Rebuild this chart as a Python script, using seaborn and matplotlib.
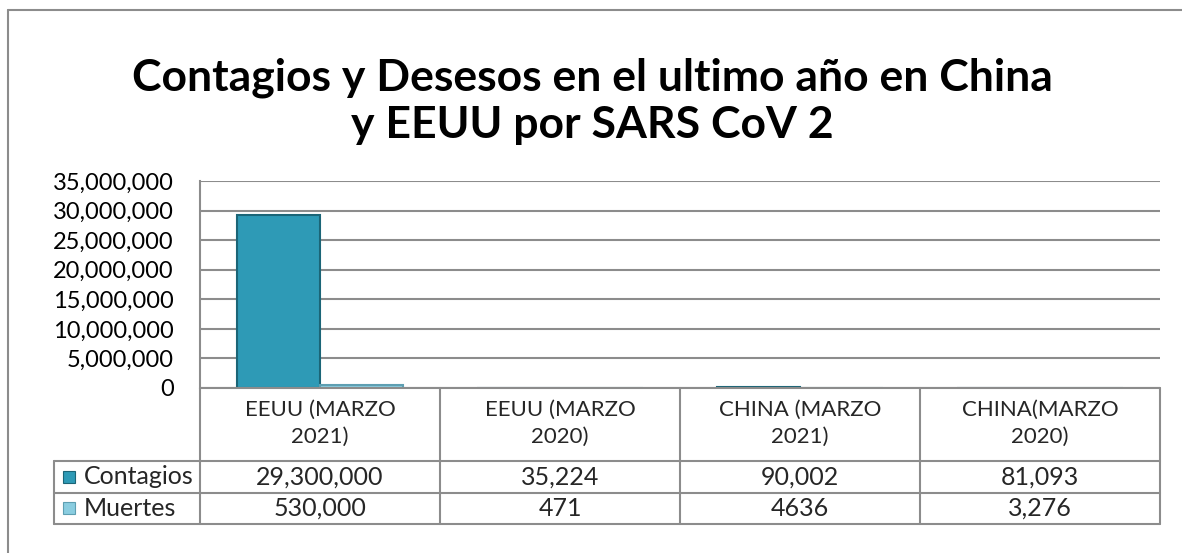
import pandas as pd
import seaborn as sns
import matplotlib.pyplot as plt
from matplotlib.ticker import FuncFormatter
from matplotlib.patches import Rectangle
from matplotlib.lines import Line2D

# Datos
periodos = ['EEUU (MARZO\n2021)', 'EEUU (MARZO\n2020)', 'CHINA (MARZO\n2021)', 'CHINA(MARZO\n2020)']
contagios = [29300000, 35224, 90002, 81093]
muertes = [530000, 471, 4636, 3276]
contagios_txt = ['29,300,000', '35,224', '90,002', '81,093']
muertes_txt = ['530,000', '471', '4636', '3,276']
series = ['Contagios', 'Muertes']
colores = ['#2E9AB6', '#8ACDE0']
bordes = ['#1B6577', '#5E9FB2']

df = pd.DataFrame({
    'periodo': periodos * 2,
    'serie': ['Contagios'] * 4 + ['Muertes'] * 4,
    'valor': contagios + muertes,
})

sns.set_style('white')
plt.rcParams['font.family'] = ['Lato', 'DejaVu Sans']

W, H = 1182, 553
fig = plt.figure(figsize=(W / 100, H / 100), dpi=100)
gris = '#8C8C8C'

def fx(px):
    return px / W

def fy(py):
    return 1 - py / H

# marco del grafico
fig.add_artist(Line2D([fx(8), fx(8)], [fy(10), 0], color=gris, lw=1.5))
fig.add_artist(Line2D([fx(8), 1], [fy(10), fy(10)], color=gris, lw=1.5))

# titulo
fig.text(fx(592), fy(101), 'Contagios y Desesos en el ultimo año en China\ny EEUU por SARS CoV 2',
         ha='center', va='center', fontsize=32, fontweight='bold', linespacing=1.2,
         color='black')

# grafico de barras
ax = fig.add_axes([fx(200), fy(388), fx(1160) - fx(200), fy(181) - fy(388)])
sns.barplot(data=df, x='periodo', y='valor', hue='serie', palette=colores,
            width=0.69, ax=ax, legend=False, saturation=1)
for i, p in enumerate(ax.patches[:8]):
    p.set_edgecolor(bordes[i // 4])
    p.set_linewidth(1.5)

ax.set_ylim(0, 35000000)
ax.set_xlim(-0.5, 3.5)
ax.set_yticks(range(0, 35000001, 5000000))
ax.yaxis.set_major_formatter(FuncFormatter(lambda v, _: f'{v:,.0f}'))
ax.grid(axis='y', color=gris, lw=1.5)
ax.set_axisbelow(True)
ax.tick_params(axis='y', length=0, pad=19, labelsize=17, labelcolor='black')
ax.set_xticks([])
ax.set_xlabel('')
ax.set_ylabel('')
for s in ['top', 'right', 'bottom']:
    ax.spines[s].set_visible(False)
ax.spines['left'].set_color(gris)
ax.spines['left'].set_linewidth(1.5)

# tabla de datos
tab = fig.add_axes([fx(200), fy(524), fx(1160) - fx(200), fy(388) - fy(524)])
tab.set_xlim(-0.5, 3.5)
tab.set_ylim(524, 388)
tab.axis('off')
x_izq = -0.5 - 146 / 240
kw = dict(color=gris, lw=1.5, clip_on=False)
for y in [388, 461, 493, 524]:
    x0 = -0.5 if y == 388 else x_izq
    tab.plot([x0, 3.5], [y, y], **kw)
for x in [-0.5, 0.5, 1.5, 2.5, 3.5]:
    tab.plot([x, x], [388, 524], **kw)
tab.plot([x_izq, x_izq], [461, 524], **kw)

for i, p in enumerate(periodos):
    tab.text(i, 423, p, ha='center', va='center', fontsize=16, linespacing=1.45)
    tab.text(i, 477, contagios_txt[i], ha='center', va='center', fontsize=18)
    tab.text(i, 508, muertes_txt[i], ha='center', va='center', fontsize=18)

for s, y, c, b in zip(series, [477, 508], colores, bordes):
    tab.add_patch(Rectangle((x_izq + 9 / 240, y - 6), 12 / 240, 12, facecolor=c,
                            edgecolor=b, lw=0.8, clip_on=False))
    tab.text(x_izq + 30 / 240, y, s, ha='left', va='center', fontsize=18)

fig.savefig('out.png', dpi=100)
